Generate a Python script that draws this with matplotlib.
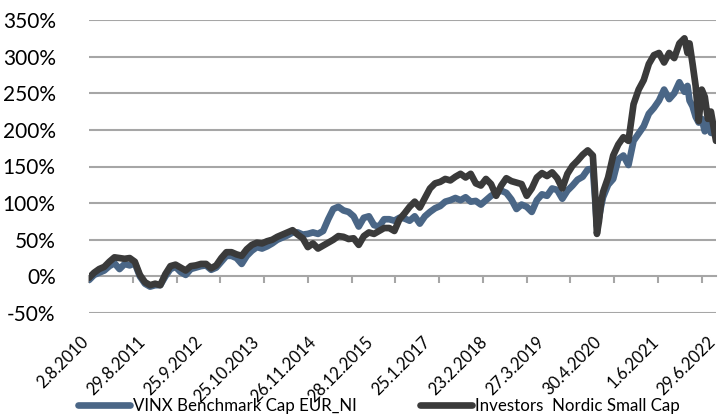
import matplotlib
matplotlib.use("Agg")
import matplotlib.pyplot as plt
from matplotlib.ticker import FuncFormatter
from matplotlib.transforms import ScaledTranslation

# Category (week) index of each sampled observation
weeks = [0, 5, 10, 15, 20, 25, 30, 35, 40, 45, 50, 55, 60, 65, 70, 75, 80, 85, 90, 95,
         100, 105, 110, 115, 120, 125, 130, 135, 140, 145, 150, 155, 160, 165, 170, 175, 180, 185, 190, 195,
         200, 205, 210, 215, 220, 225, 230, 235, 240, 245, 250, 255, 260, 265, 270, 275, 280, 285, 290, 295,
         300, 305, 310, 315, 320, 325, 330, 335, 340, 345, 350, 355, 360, 365, 370, 375, 380, 385, 390, 395,
         400, 405, 410, 415, 420, 425, 430, 435, 440, 445, 450, 455, 460, 465, 470, 475, 480, 485, 490, 495,
         497, 499, 501, 503, 505, 510, 515, 520, 525, 530, 535, 540, 545, 550, 555, 560, 565, 570, 575, 580,
         585, 588, 590, 593, 596, 599, 602, 605, 608, 611, 616]

vinx = [-5, 2, 5, 8, 14, 18, 10, 17, 15, 18, 0, -10, -14, -12, -12, 0, 10, 13, 6, 2,
        10, 12, 14, 15, 9, 12, 20, 28, 28, 25, 17, 28, 35, 40, 38, 41, 45, 50, 53, 56,
        60, 60, 57, 58, 60, 58, 62, 78, 92, 95, 90, 88, 82, 68, 80, 82, 70, 68, 78, 78,
        76, 80, 79, 76, 82, 72, 82, 88, 93, 96, 102, 104, 107, 104, 108, 102, 103, 98, 104, 110,
        114, 117, 114, 105, 92, 98, 95, 88, 104, 112, 110, 120, 118, 106, 117, 124, 132, 136, 146, 147,
        110, 68, 80, 95, 108, 125, 133, 160, 165, 152, 185, 195, 205, 222, 230, 240, 255, 242, 250, 265,
        252, 260, 240, 232, 218, 210, 215, 198, 212, 196, 195]

fund = [-2, 5, 10, 13, 20, 26, 25, 24, 25, 20, 2, -8, -12, -10, -12, 3, 14, 16, 12, 8,
        14, 15, 17, 17, 11, 15, 25, 33, 33, 30, 28, 37, 43, 46, 45, 48, 50, 54, 57, 60,
        63, 57, 52, 40, 45, 38, 42, 46, 50, 55, 54, 51, 52, 43, 55, 60, 58, 62, 66, 66,
        62, 78, 86, 95, 102, 94, 107, 120, 127, 129, 133, 131, 136, 140, 135, 140, 127, 124, 133, 126,
        110, 124, 134, 130, 128, 126, 110, 120, 135, 141, 137, 142, 134, 120, 140, 151, 158, 166, 172, 165,
        120, 58, 75, 100, 115, 135, 165, 180, 190, 185, 235, 255, 268, 290, 302, 305, 292, 305, 298, 318,
        325, 305, 318, 290, 260, 212, 255, 245, 215, 225, 185]

tick_labels = ["2.8.2010", "29.8.2011", "25.9.2012", "25.10.2013", "26.11.2014", "28.12.2015",
               "25.1.2017", "23.2.2018", "27.3.2019", "30.4.2020", "1.6.2021", "29.6.2022"]
label_positions = [0, 56, 112, 168, 224, 280, 336, 392, 448, 504, 560, 616]
tick_mark_positions = [0, 43, 86, 129, 172, 215, 258, 301, 344, 387, 430, 473, 516, 559, 602]
y_ticks = [-50, 0, 50, 100, 150, 200, 250, 300, 350]

series_names = ["VINX Benchmark Cap EUR_NI", "Investors  Nordic Small Cap"]
colors = ["#4a6686", "#3a3a3a"]

plt.rcParams['font.family'] = ['Lato', 'DejaVu Sans']

fig = plt.figure(figsize=(7.19, 4.16), dpi=100)
ax = fig.add_axes([89/719, 1 - 313/416, (716-89)/719, 293/416])

grid_color = "#a6a6a6"
for yv in y_ticks:
    if yv != 0:
        ax.axhline(yv, color=grid_color, lw=1.5, zorder=1)

l1, = ax.plot(weeks, vinx, color=colors[0], lw=4.8, solid_capstyle='round',
              solid_joinstyle='round', zorder=3, label=series_names[0])
l2, = ax.plot(weeks, fund, color=colors[1], lw=4.8, solid_capstyle='round',
              solid_joinstyle='round', zorder=4, label=series_names[1])

ax.set_xlim(0, 616)
ax.set_ylim(-50, 350)
ax.set_yticks(y_ticks)
ax.yaxis.set_major_formatter(FuncFormatter(lambda v, p: f"{int(v)}%"))
ax.tick_params(axis='y', length=0, pad=24, labelsize=15, labelcolor="#000000")

for s in ['top', 'right', 'left']:
    ax.spines[s].set_visible(False)
ax.spines['bottom'].set_position(('data', 0))
ax.spines['bottom'].set_color(grid_color)
ax.spines['bottom'].set_linewidth(1.5)
ax.spines['bottom'].set_zorder(2)
ax.set_xticks(tick_mark_positions)
ax.set_xticklabels([])
ax.tick_params(axis='x', direction='out', length=5, width=1.5, color=grid_color)

sec = ax.secondary_xaxis(0.0)
sec.set_xticks(label_positions)
sec.set_xticklabels(tick_labels, rotation=45, ha='right', va='center',
                    rotation_mode='anchor', fontsize=12)
sec.tick_params(axis='x', length=0, pad=19)
sec.spines['bottom'].set_visible(False)
offset = ScaledTranslation(-3/100, 0, fig.dpi_scale_trans)
for lbl in sec.get_xticklabels():
    lbl.set_transform(lbl.get_transform() + offset)

fig.legend(handles=[l1, l2], labels=series_names, loc='center',
           bbox_to_anchor=(379/719, 1 - 406/416), ncol=2, frameon=False,
           fontsize=12.2, handlelength=3.05, handletextpad=0.2, columnspacing=3.7,
           borderaxespad=0)

fig.savefig("out.png", dpi=100)
